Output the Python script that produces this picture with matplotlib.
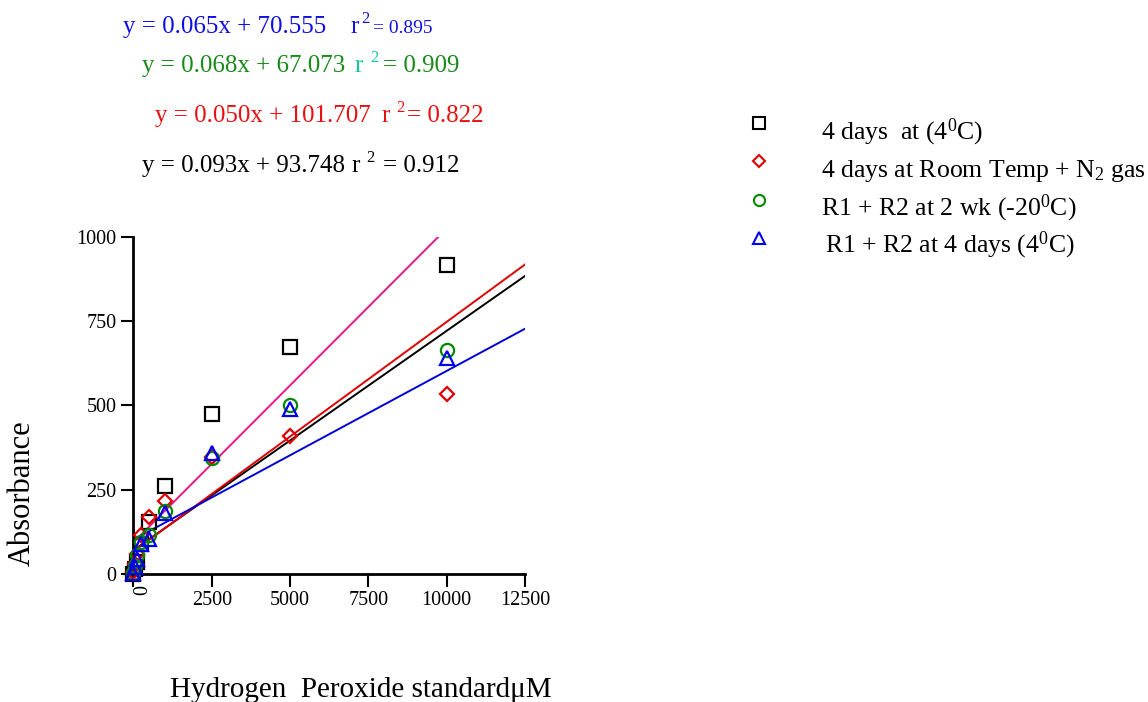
import matplotlib
matplotlib.use("Agg")
import matplotlib.pyplot as plt
import numpy as np

plt.rcParams['font.family'] = ['Liberation Serif', 'DejaVu Serif']
plt.rcParams['mathtext.fontset'] = 'custom'
plt.rcParams['mathtext.rm'] = 'Liberation Serif'
plt.rcParams['mathtext.it'] = 'Liberation Serif:italic'

W, H = 1148, 702

# H2O2 standards (uM) and readings for each storage condition
conc = [0, 62.5, 125, 250, 500, 1000, 2500, 5000, 10000]
days4_4c = [0, 15, 35, 90, 155, 262, 475, 674, 916]
days4_rt_n2 = [5, 30, 60, 115, 168, 216, 348, 410, 532]
wk2_m20c = [3, 25, 55, 95, 115, 188, 345, 500, 664]
r12_days4_4c = [2, 20, 45, 90, 105, 180, 360, 490, 640]

series = [days4_4c, days4_rt_n2, wk2_m20c, r12_days4_4c]
series_labels = ['4 days  at (4$^0$C)',
                 '4 days at Room Temp + N$_2$ gas',
                 'R1 + R2 at 2 wk (-20$^0$C)',
                 'R1 + R2 at 4 days (4$^0$C)']
series_colors = ['black', '#E00000', '#008A00', '#0000F0']
series_markers = ['s', 'D', 'o', '^']

# regression lines as drawn (slope, intercept)
fit_slope = [0.093, 0.065, 0.068, 0.050]
fit_intercept = [93.748, 70.555, 67.073, 101.707]
fit_colors = ['#E8168C', 'black', '#E00000', '#0000D8']

# equation texts
eq_main = ['y = 0.065x + 70.555', 'y = 0.068x + 67.073',
           'y = 0.050x + 101.707', 'y = 0.093x + 93.748']
eq_r2 = ['= 0.895', '= 0.909', '= 0.822', '= 0.912']
eq_colors = ['#1010E0', '#1A8A1A', '#E81010', 'black']
eq_rcolors = ['#1010E0', '#10C8A0', '#E81010', 'black']


def fx(x):
    return x / W


def fy(y):
    return 1 - y / H


fig = plt.figure(figsize=(W / 100, H / 100), dpi=100)
ax = fig.add_axes([fx(133.4), fy(574), (525 - 133.4) / W, (574 - 236.5) / H])

xs = np.array([0, 12500])
for m, b, c in zip(fit_slope, fit_intercept, fit_colors):
    ax.plot(xs, m * xs + b, color=c, lw=1.4)

for ys, c, mk in zip(series, series_colors, series_markers):
    ms = 9.5 if mk != 'D' else 7.5
    ax.plot(conc, ys, ls='none', marker=mk, ms=ms, mfc='none', mec=c,
            mew=1.6, clip_on=False, zorder=3)

ax.set_xlim(0, 12500)
ax.set_ylim(0, 1000)
ax.set_xticks([0, 2500, 5000, 7500, 10000, 12500])
ax.set_xticklabels(['', '2500', '5000', '7500', '10000', '12500'])
ax.set_yticks([0, 250, 500, 750, 1000])
ax.tick_params(direction='out', length=9, width=1.5, labelsize=14.5, pad=3)
for s in ['top', 'right']:
    ax.spines[s].set_visible(False)
for s in ['left', 'bottom']:
    ax.spines[s].set_linewidth(2)

fig.text(fx(143), fy(590), '0', rotation=90, ha='center', va='center',
         fontsize=14.5)

fig.text(fx(22), fy(493), 'Absorbance', rotation=90, ha='center',
         va='center', fontsize=22)
fig.text(fx(361), fy(697), 'Hydrogen  Peroxide standard\u03bcM', ha='center',
         va='baseline', fontsize=21)

# equations
eq_x = [123, 142, 155, 142]
eq_base = [33, 72, 122, 172]
r_x = [350, 354, 381, 351]
sup_x = [361, 370, 396, 366]
val_x = [373, 383, 407, 383]
val_size = [14, 18, 18, 18]
for i in range(4):
    fig.text(fx(eq_x[i]), fy(eq_base[i]), eq_main[i], color=eq_colors[i],
             fontsize=18, va='baseline')
    fig.text(fx(r_x[i]), fy(eq_base[i]), 'r', color=eq_rcolors[i],
             fontsize=18, va='baseline')
    fig.text(fx(sup_x[i]), fy(eq_base[i] - 10), '2', color=eq_rcolors[i],
             fontsize=12, va='baseline')
    fig.text(fx(val_x[i]), fy(eq_base[i]), eq_r2[i], color=eq_colors[i],
             fontsize=val_size[i], va='baseline')

# legend
leg_marker_y = [123, 161, 200, 238]
leg_text_y = [139, 177, 215, 252]
leg_text_x = [821, 821, 821, 825]
for i in range(4):
    fig.lines.append(plt.Line2D([fx(759)], [fy(leg_marker_y[i])],
                                transform=fig.transFigure, ls='none',
                                marker=series_markers[i],
                                ms=8 if series_markers[i] != 'D' else 6.5,
                                mfc='none', mec=series_colors[i], mew=1.5))
    fig.text(fx(leg_text_x[i]), fy(leg_text_y[i]), series_labels[i],
             fontsize=18.5, va='baseline')

fig.savefig('out.png', dpi=100)
